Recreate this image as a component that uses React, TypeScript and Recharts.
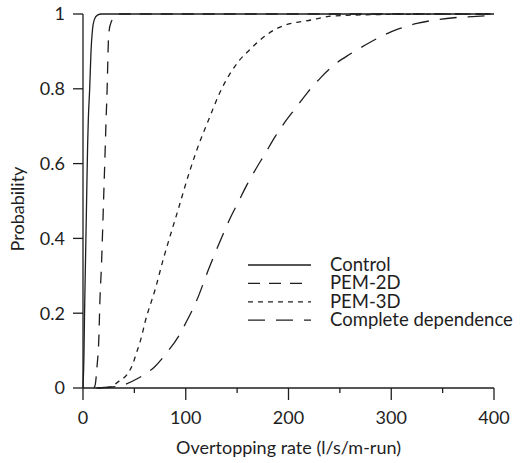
import { LineChart, Line, XAxis, YAxis } from "recharts";

// overtopping rate (l/s/m-run) -> probability
const control = [
  { x: 0, p: 0 }, { x: 1, p: 0.1 }, { x: 1.5, p: 0.2 }, { x: 2.5, p: 0.35 },
  { x: 3.5, p: 0.5 }, { x: 4.5, p: 0.65 }, { x: 5.2, p: 0.72 }, { x: 6.5, p: 0.8 },
  { x: 7.8, p: 0.9 }, { x: 9.3, p: 0.96 }, { x: 11, p: 0.985 }, { x: 14, p: 0.997 },
  { x: 18, p: 1 }, { x: 400, p: 1 },
];

const pem2d = [
  { x: 10.7, p: 0 }, { x: 12, p: 0.01 }, { x: 13.6, p: 0.056 }, { x: 15.6, p: 0.147 },
  { x: 16.3, p: 0.22 }, { x: 18, p: 0.33 }, { x: 20, p: 0.5 }, { x: 21.5, p: 0.63 },
  { x: 22.5, p: 0.72 }, { x: 23.5, p: 0.8 }, { x: 24.6, p: 0.92 }, { x: 25.5, p: 0.957 },
  { x: 27, p: 0.975 }, { x: 30, p: 0.99 }, { x: 36, p: 1 }, { x: 400, p: 1 },
];

const pem3d = [
  { x: 13, p: 0 }, { x: 20, p: 0.0005 }, { x: 26, p: 0.002 }, { x: 35.8, p: 0.02 },
  { x: 43.2, p: 0.037 }, { x: 48.7, p: 0.066 }, { x: 51.9, p: 0.093 }, { x: 55.2, p: 0.12 },
  { x: 57.8, p: 0.146 }, { x: 60.1, p: 0.173 }, { x: 63.3, p: 0.204 }, { x: 66.5, p: 0.231 },
  { x: 69.2, p: 0.254 }, { x: 77.9, p: 0.342 }, { x: 92.5, p: 0.476 }, { x: 104.2, p: 0.583 },
  { x: 115, p: 0.668 }, { x: 120.5, p: 0.705 }, { x: 134.4, p: 0.797 }, { x: 151, p: 0.872 },
  { x: 164, p: 0.909 }, { x: 170.5, p: 0.926 }, { x: 190, p: 0.963 }, { x: 222, p: 0.984 },
  { x: 245, p: 0.995 }, { x: 300, p: 0.999 }, { x: 400, p: 1 },
];

const completeDep = [
  { x: 15, p: 0 }, { x: 25, p: 0.002 }, { x: 39, p: 0.008 }, { x: 53.6, p: 0.026 },
  { x: 69.8, p: 0.057 }, { x: 81.1, p: 0.093 }, { x: 92.5, p: 0.136 }, { x: 100.6, p: 0.177 },
  { x: 110.8, p: 0.235 }, { x: 122, p: 0.316 }, { x: 128.6, p: 0.361 }, { x: 136, p: 0.409 },
  { x: 143.2, p: 0.454 }, { x: 151.3, p: 0.498 }, { x: 159.5, p: 0.543 }, { x: 168.5, p: 0.587 },
  { x: 177.3, p: 0.627 }, { x: 187, p: 0.672 }, { x: 196.8, p: 0.712 }, { x: 208, p: 0.752 },
  { x: 219, p: 0.792 }, { x: 231.4, p: 0.83 }, { x: 244.5, p: 0.864 }, { x: 260, p: 0.893 },
  { x: 274.7, p: 0.917 }, { x: 291, p: 0.941 }, { x: 307, p: 0.96 }, { x: 325, p: 0.975 },
  { x: 343, p: 0.984 }, { x: 361, p: 0.99 }, { x: 379, p: 0.993 }, { x: 400, p: 0.997 },
];

const xTicks = [0, 50, 100, 150, 200, 250, 300, 350, 400];
const yTicks = [0, 0.2, 0.4, 0.6, 0.8, 1];

const series = [
  { name: "Control", data: control, dash: undefined },
  { name: "PEM-2D", data: pem2d, dash: "12 9" },
  { name: "PEM-3D", data: pem3d, dash: "5 5" },
  { name: "Complete dependence", data: completeDep, dash: "17 11" },
];

const FONT = "'Gill Sans', Lato, sans-serif";
const INK = "#1e1e1e";

const XTick = ({ x, y, payload }: any) => {
  const major = payload.value % 100 === 0;
  return (
    <g>
      <line x1={x} x2={x} y1={y} y2={y + (major ? 12 : 5)} stroke={INK} strokeWidth={1.3} />
      {major && (
        <text x={x} y={y + 36} textAnchor="middle" fontSize={18} fontFamily={FONT} fill={INK}>
          {payload.value}
        </text>
      )}
    </g>
  );
};

// legend drawn over the plot, lower right
const LegendBox = () => (
  <svg width={279} height={86} style={{ position: "absolute", left: 248, top: 246 }}>
    {series.map((s, i) => (
      <g key={s.name}>
        <line x1={0} x2={63} y1={19 + i * 18.4} y2={19 + i * 18.4} stroke={INK}
          strokeWidth={1.3} strokeDasharray={s.dash} />
        <text x={82} y={25 + i * 18.4} fontSize={18.5} fontFamily={FONT} fill={INK}>{s.name}</text>
      </g>
    ))}
  </svg>
);

export default function App() {
  return (
    <div style={{ position: "relative", width: 527, height: 463 }}>
      <style>{"body{margin:0}"}</style>
      <LineChart width={527} height={463} margin={{ top: 14, right: 33, bottom: 0, left: 0 }}>
        <XAxis
          type="number"
          dataKey="x"
          domain={[0, 400]}
          ticks={xTicks}
          interval={0}
          height={75}
          tickSize={0}
          tickMargin={0}
          tick={<XTick />}
          axisLine={{ stroke: INK, strokeWidth: 1.3 }}
          label={(props: any) => {
            const vb = props.viewBox;
            return (
              <text x={vb.x + vb.width / 2} y={vb.y + 66} textAnchor="middle"
                fontSize={18} fontFamily={FONT} fill={INK}>
                Overtopping rate (l/s/m-run)
              </text>
            );
          }}
        />
        <YAxis
          type="number"
          domain={[0, 1]}
          ticks={yTicks}
          interval={0}
          width={83}
          tickSize={10}
          tickMargin={8}
          tick={{ fontSize: 18, fontFamily: FONT, fill: INK }}
          tickLine={{ stroke: INK, strokeWidth: 1.3 }}
          axisLine={{ stroke: INK, strokeWidth: 1.3 }}
          label={(props: any) => {
            const vb = props.viewBox;
            const cx = vb.x + 17;
            const cy = vb.y + vb.height / 2 + 8;
            return (
              <text x={cx} y={cy} textAnchor="middle" fontSize={18} fontFamily={FONT}
                fill={INK} transform={`rotate(-90 ${cx} ${cy})`} dominantBaseline="central">
                Probability
              </text>
            );
          }}
        />
        {series.map((s) => (
          <Line
            key={s.name}
            data={s.data}
            dataKey="p"
            name={s.name}
            type="monotone"
            stroke={INK}
            strokeWidth={1.3}
            strokeDasharray={s.dash}
            dot={false}
            activeDot={false}
            isAnimationActive={false}
          />
        ))}
      </LineChart>
      <LegendBox />
    </div>
  );
}
